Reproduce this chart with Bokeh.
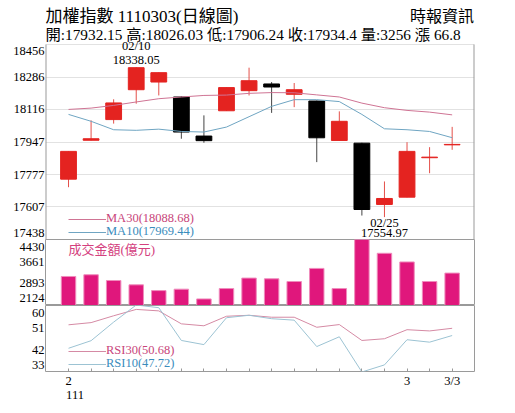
from bokeh.plotting import figure
from bokeh.models import (Range1d, FixedTicker, Label, Legend, LegendItem,
                          ColumnDataSource, LinearAxis)
from bokeh.layouts import column
from bokeh.embed import file_html
from bokeh.resources import INLINE

# ---------------- data ----------------
dates = ["02/07", "02/08", "02/09", "02/10", "02/11", "02/14", "02/15", "02/16", "02/17",
         "02/18", "02/21", "02/22", "02/23", "02/24", "02/25", "03/01", "03/02", "03/03"]
opens = [17753, 17956, 18064, 18220, 18260, 18182, 17978, 18110, 18215,
         18250, 18196, 18161, 17955, 17941, 17621, 17659, 17865, 17932.15]
highs = [17899, 18060, 18170, 18338.05, 18310, 18185, 18086, 18232, 18335,
         18260, 18255, 18163, 18107, 17943, 17741, 17946, 17920, 18026.03]
lows = [17711, 17955, 18043, 18147, 18190, 17964, 17943, 18109, 18190,
        18099, 18129, 17842, 17954, 17563, 17554.97, 17658, 17784, 17906.24]
closes = [17898, 17964, 18151, 18335, 18309, 17999, 17954, 18231, 18267,
          18234, 18220, 17969, 18055, 17594.55, 17652.18, 17898, 17868, 17934.4]
ma30 = [18117, 18124, 18138, 18156, 18173, 18182, 18190, 18192, 18201,
        18205, 18204, 18193, 18182, 18150, 18126, 18112, 18103, 18088.68]
ma10 = [18091, 18055, 18011, 18008, 18014, 18002, 17999, 18025, 18079,
        18133, 18168, 18168, 18158, 18091, 18016, 18011, 18002, 17969.44]
volume = [3138, 3198, 2997, 2846, 2645, 2694, 2353, 2716, 3082,
          3057, 2962, 3420, 2716, 4430, 3948, 3645, 2962, 3256]
rsi30 = [52.1, 53.0, 55.8, 58.4, 57.8, 52.5, 51.7, 55.6, 56.0,
         55.2, 55.2, 51.1, 52.2, 45.7, 46.4, 50.1, 49.6, 50.68]
rsi10 = [42.5, 45.6, 53.2, 60.2, 59.1, 45.7, 44.0, 55.0, 56.0,
         54.6, 54.0, 43.2, 47.2, 32.8, 35.7, 46.0, 45.0, 47.72]

price_ticks = [17438, 17607.67, 17777.33, 17947, 18116.67, 18286.33, 18456]
price_tick_labels = ["17438", "17607", "17777", "17947", "18116", "18286", "18456"]
vol_ticks = [2124, 2893, 3661, 4430]
vol_tick_labels = ["2124", "2893", "3661", "4430"]
rsi_ticks = [33, 42, 51, 60]
rsi_tick_labels = ["33", "42", "51", "60"]
x_tick_labels = ["2", "", "", "", "", "", "", "", "", "", "", "", "", "", "", "3", "", "3/3"]
year_label = "111"

title_text = "加權指數 1110303(日線圖)"
source_text = "時報資訊"
quote_text = "開:17932.15 高:18026.03 低:17906.24 收:17934.4 量:3256 漲 66.8"
vol_title = "成交金額(億元)"

# ---------------- style ----------------
FONT = "Liberation Serif, Noto Sans CJK TC"
RED = "#e42320"
BLACK = "#000000"
MA30_C = "#cf7494"
MA10_C = "#6fa5c2"
MA30_T = "#c8457a"
MA10_T = "#3a8cbc"
BAR_C = "#e0177c"
OUT_C = "#9a9a9a"

days = list(range(len(dates)))
W = 507
LEFT, RIGHT = 45, 33
FRAME_W = W - LEFT - RIGHT
HDR_H = 44          # header band on top of the price frame
PRICE_H = 195       # price panel height in px
x_rng = Range1d(-1.02, 17.99)
px_per_day = FRAME_W / (x_rng.end - x_rng.start)


def base_fig(height, yr, bottom=0):
    p = figure(width=W, height=height, x_range=x_rng, y_range=yr,
               output_backend="svg", toolbar_location=None, x_axis_location=None,
               min_border_left=LEFT, min_border_right=RIGHT,
               min_border_top=0, min_border_bottom=bottom)
    p.outline_line_color = OUT_C
    p.outline_line_width = 1
    p.background_fill_color = "white"
    p.border_fill_color = "white"
    p.xgrid.grid_line_color = None
    p.ygrid.grid_line_color = None
    return p


def style_yaxis(p, ticks, labels, lo, hi, frame_px, shift_px=7):
    k = (hi - lo) / frame_px
    pos = [round(t, 2) for t in ticks]
    pos[0] = round(pos[0] + shift_px * k, 2)
    pos[-1] = round(pos[-1] - shift_px * k, 2)
    ax = p.yaxis[0]
    ax.ticker = FixedTicker(ticks=pos)
    ax.major_label_overrides = {pv: lb for pv, lb in zip(pos, labels)}
    ax.axis_line_color = None
    ax.major_tick_line_color = None
    ax.major_tick_in = 0
    ax.major_tick_out = 0
    ax.minor_tick_line_color = None
    ax.minor_tick_in = 0
    ax.minor_tick_out = 0
    ax.major_label_standoff = 1
    ax.major_label_text_font = FONT
    ax.major_label_text_font_size = "12.5px"
    ax.major_label_text_color = "black"


def add_legend(p, renderer, text, color, vy):
    leg = Legend(items=[LegendItem(label=text, renderers=[renderer])],
                 location=(68 - LEFT, vy), background_fill_alpha=0, border_line_alpha=0,
                 padding=0, margin=0, spacing=0, glyph_width=38, glyph_height=14,
                 label_height=14, label_standoff=0, label_text_font=FONT,
                 label_text_font_size="12.5px", label_text_color=color)
    p.add_layout(leg)


# ---------------- price panel (with the header band above it) ----------------
p_lo, p_hi = price_ticks[0], price_ticks[-1]
k_price = (p_hi - p_lo) / PRICE_H
p1 = base_fig(HDR_H + PRICE_H, Range1d(p_lo, p_hi + HDR_H * k_price))
p1.outline_line_color = None
style_yaxis(p1, price_ticks, price_tick_labels, p_lo, p_hi, PRICE_H)
p1.ygrid.ticker = FixedTicker(ticks=price_ticks)
p1.ygrid.grid_line_color = "#e2e2e2"
p1.ygrid.grid_line_width = 1.2
# left / right borders of the price box
p1.segment(x0=[x_rng.start, x_rng.end], y0=[p_lo, p_lo], x1=[x_rng.start, x_rng.end],
           y1=[p_hi, p_hi], line_color=OUT_C, line_width=2)

up = [c >= o for o, c in zip(opens, closes)]
src = ColumnDataSource(dict(
    x=days, h=highs, l=lows,
    top=[max(o, c) for o, c in zip(opens, closes)],
    bot=[min(o, c) for o, c in zip(opens, closes)],
    body=[RED if u else BLACK for u in up],
    wick=["#e4504a" if u else "#444444" for u in up],
))
p1.segment(x0="x", y0="h", x1="x", y1="l", line_color="wick", line_width=1, source=src)
p1.vbar(x="x", width=0.7, top="top", bottom="bot", fill_color="body",
        line_color="body", line_width=1, source=src)
r_ma30 = p1.line(days, ma30, line_color=MA30_C, line_width=1)
r_ma10 = p1.line(days, ma10, line_color=MA10_C, line_width=1)
add_legend(p1, r_ma30, "MA30(%.2f)" % ma30[-1], MA30_T, 12.7)
add_legend(p1, r_ma10, "MA10(%.2f)" % ma10[-1], MA10_T, 0)

imax = highs.index(max(highs))
imin = lows.index(min(lows))
lab_kw = dict(text_font=FONT, text_font_size="12.5px", text_color="black",
              text_align="center", text_baseline="middle")
p1.add_layout(Label(x=imax, y=highs[imax], y_offset=21, text=dates[imax], **lab_kw))
p1.add_layout(Label(x=imax, y=highs[imax], y_offset=7.3, text="%.2f" % highs[imax], **lab_kw))
p1.add_layout(Label(x=imin, y=lows[imin], y_offset=-5.5, text=dates[imin], **lab_kw))
p1.add_layout(Label(x=imin, y=lows[imin], y_offset=-15.5, text="%.2f" % lows[imin], **lab_kw))

hdr = dict(text_font=FONT, text_color="black", text_baseline="middle")
p1.add_layout(Label(x=x_rng.start, y=p_hi, y_offset=28, text=title_text,
                    text_align="left", text_font_size="17px", **hdr))
p1.add_layout(Label(x=x_rng.end, y=p_hi, y_offset=28, x_offset=-0.5, text=source_text,
                    text_align="right", text_font_size="16px", **hdr))
p1.add_layout(Label(x=x_rng.start, y=p_hi, y_offset=10, text=quote_text,
                    text_align="left", text_font_size="15.3px", **hdr))

# ---------------- volume panel ----------------
v_lo, v_hi = vol_ticks[0], vol_ticks[-1]
p2 = base_fig(66, Range1d(v_lo, v_hi))
style_yaxis(p2, vol_ticks, vol_tick_labels, v_lo, v_hi, 66)
p2.vbar(x=days, top=volume, bottom=v_lo, width=0.64, fill_color=BAR_C,
        line_color="#ef8cbc", line_width=1)
p2.add_layout(Label(x=0, y=v_hi, y_offset=-10, text=vol_title, text_align="left",
                    text_baseline="middle", text_font=FONT, text_font_size="13px",
                    text_color="#d4407e"))

# ---------------- RSI panel ----------------
r_lo, r_hi = rsi_ticks[0], rsi_ticks[-1]
p3 = figure(width=W, height=100, x_range=x_rng, y_range=Range1d(r_lo, r_hi),
            output_backend="svg", toolbar_location=None,
            min_border_left=LEFT, min_border_right=RIGHT, min_border_top=0, min_border_bottom=34)
p3.outline_line_color = OUT_C
p3.xgrid.grid_line_color = None
p3.ygrid.grid_line_color = None
style_yaxis(p3, rsi_ticks, rsi_tick_labels, r_lo, r_hi, 66)
xa = p3.xaxis[0]
xa.ticker = FixedTicker(ticks=days)
xa.major_label_overrides = {d: lb for d, lb in zip(days, x_tick_labels)}
xa.axis_line_color = None
xa.major_tick_in = 3
xa.major_tick_out = 0
xa.major_tick_line_color = "#999999"
xa.minor_tick_line_color = None
xa.minor_tick_in = 0
xa.minor_tick_out = 0
xa.major_label_standoff = 2
xa.major_label_text_font = FONT
xa.major_label_text_font_size = "12.5px"
xa.major_label_text_color = "black"

# year label: a second bottom axis, label left-aligned under the first month tick
year_pos = round(6.5 / px_per_day, 3)
ya = LinearAxis(ticker=FixedTicker(ticks=[year_pos]),
                major_label_overrides={year_pos: year_label},
                axis_line_color=None, major_tick_line_color=None,
                major_tick_in=0, major_tick_out=0,
                minor_tick_line_color=None, minor_tick_in=0, minor_tick_out=0,
                major_label_standoff=0, major_label_text_font=FONT,
                major_label_text_font_size="12.5px", major_label_text_color="black")
p3.add_layout(ya, "below")

r_rsi30 = p3.line(days, rsi30, line_color="#d58aa4", line_width=1)
r_rsi10 = p3.line(days, rsi10, line_color="#9cc3d3", line_width=1)
add_legend(p3, r_rsi30, "RSI30(%.2f)" % rsi30[-1], MA30_T, 13)
add_legend(p3, r_rsi10, "RSI10(%.2f)" % rsi10[-1], MA10_T, 0)

layout = column(p1, p2, p3, spacing=0)
open("out.html", "w").write(file_html(layout, INLINE))
